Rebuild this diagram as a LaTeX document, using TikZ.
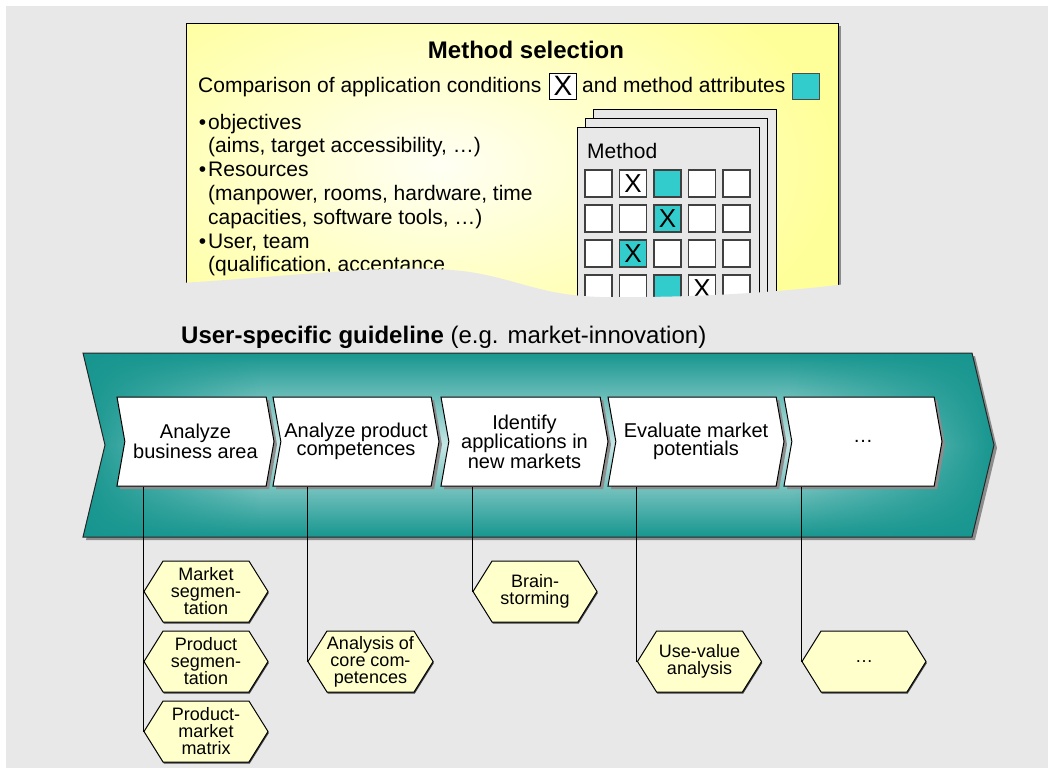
\documentclass[tikz,border=0pt]{standalone}
\usepackage{fontspec}
\setmainfont{Liberation Sans}
\usepackage{tikz}
\usetikzlibrary{shapes.symbols,shadows,fadings}

\definecolor{bggray}{HTML}{E8E8E8}
\definecolor{noteyellow}{HTML}{FFFF99}
\definecolor{notelight}{HTML}{FFFFF4}
\definecolor{attrteal}{HTML}{33CCCC}
\definecolor{banddark}{HTML}{17968F}
\definecolor{bandlight}{HTML}{C6E7E6}
\definecolor{hexyellow}{HTML}{FFFFCC}
\definecolor{shadowgray}{HTML}{8C8C8C}

\tikzfading[name=fadeleft, left color=transparent!0, right color=transparent!100]
\tikzfading[name=faderight, left color=transparent!100, right color=transparent!0]

\tikzset{
  stepbox/.style={signal, signal from=west, signal to=east, signal pointer angle=160,
    draw, fill=white, line width=1pt, minimum height=89pt, inner sep=0pt, align=center,
    font=\fontsize{20}{18.5}\selectfont,
    drop shadow={shadow xshift=3pt, shadow yshift=-3pt, fill=shadowgray, opacity=1}},
  techbox/.style={signal, signal to=west and east, signal pointer angle=116,
    draw, fill=hexyellow, line width=1pt, minimum width=124pt, minimum height=61pt,
    inner sep=0pt, align=center, font=\fontsize{18}{17}\selectfont,
    drop shadow={shadow xshift=0.8pt, shadow yshift=-1.5pt, fill=black!75, opacity=1}},
  cell/.style={draw=black!75, line width=1.2pt, fill=white, minimum size=27pt,
    inner sep=0pt},
  card/.style={draw, fill=bggray, line width=1pt},
  plain/.style={inner sep=0pt, font=\fontsize{21}{24}\selectfont},
  link/.style={line width=1pt},
}

\begin{document}
\begin{tikzpicture}[x=1pt, y=-1pt]
\useasboundingbox (0,0) rectangle (1048,774);
\fill[bggray] (6,6) rectangle (1048,768);
% --- Top: method selection note ---
\fill[shadowgray] (189,26) rectangle (841,300);
\begin{scope}
\clip (186,23) rectangle (838,300);
\shade[inner color=notelight, outer color=noteyellow] (40,-60) rectangle (840,390);
\end{scope}
\draw[line width=1pt] (186,300) -- (186,23) -- (838,23) -- (838,300);
\node[anchor=base, inner sep=0pt, font=\bfseries\fontsize{24}{24}\selectfont] (title) at (526,58) {Method selection};
\node[plain, anchor=base west] (cmp) at (198,92) {Comparison of application conditions};
\node[draw, fill=white, line width=1pt, minimum width=27pt, minimum height=26pt, inner sep=0pt,
  font=\fontsize{28}{28}\selectfont] (legx) at (563,86) {X};
\node[plain, anchor=base west] (attr) at (582,92) {and method attributes};
\node[draw=black!70, fill=attrteal, line width=1pt, minimum width=27pt, minimum height=26pt,
  inner sep=0pt] (legt) at (805.5,86) {};
\foreach \txt [count=\k from 0] in {{\llap{\textbullet\hspace{2pt}}objectives},
    {(aims, target accessibility, \ldots)}, {\llap{\textbullet\hspace{2pt}}Resources},
    {(manpower, rooms, hardware, time}, {capacities, software tools, \ldots)},
    {\llap{\textbullet\hspace{2pt}}User, team}, {(qualification, acceptance}}
  \node[plain, anchor=base west] (need\k) at (208,129+23.8*\k) {\txt};
% method cards
\draw[card] (593,109) rectangle (776,300);
\draw[card] (585,118) rectangle (767,300);
\draw[card] (577,127) rectangle (759,300);
\node[plain, anchor=base west] (mlabel) at (587,158) {Method};
\foreach \r in {0,...,3}
  \foreach \c in {0,...,4}
    \node[cell] (c\r\c) at (598.5+34.5*\c, 183.5+35*\r) {};
\foreach \r/\c in {0/2, 1/2, 2/1, 3/2}
  \node[cell, fill=attrteal] at (c\r\c) {};
\foreach \r/\c in {0/1, 1/2, 2/1, 3/3}
  \node[inner sep=0pt, font=\fontsize{26}{26}\selectfont] at (c\r\c) {X};
% torn lower edge
\fill[bggray] (180,283) .. controls (300,276) and (400,262) .. (470,272)
  .. controls (520,280) and (540,295) .. (600,297)
  .. controls (700,298) and (780,292) .. (846,284) -- (846,314) -- (180,314) -- cycle;

% --- Guideline band ---
\node[anchor=base west, inner sep=0pt, font=\fontsize{24}{24}\selectfont] (guide) at (181,343)
  {\textbf{User-specific guideline} (e.g. market-innovation)};
\fill[shadowgray] (86,356) -- (975,356) -- (997,448) -- (975,540) -- (86,540) -- (108,448) -- cycle;
\begin{scope}
\clip (83,353) -- (972,353) -- (994,445) -- (972,537) -- (83,537) -- (105,445) -- cycle;
\shade[top color=banddark, bottom color=banddark, middle color=bandlight] (83,353) rectangle (994,537);
\fill[banddark, path fading=fadeleft] (83,353) rectangle (260,537);
\fill[banddark, path fading=faderight] (790,353) rectangle (994,537);
\end{scope}
\draw[line width=1pt, black!85] (83,353) -- (972,353) -- (994,445) -- (972,537) -- (83,537) -- (105,445) -- cycle;

\node[stepbox, minimum width=157pt] (s1) at (195.5,441.5) {Analyze\\business area};
\node[stepbox, minimum width=166pt] (s2) at (356,441.5) {Analyze product\\competences};
\node[stepbox, minimum width=167pt] (s3) at (524.5,441.5) {Identify\\applications in\\new markets};
\node[stepbox, minimum width=176pt] (s4) at (696,441.5) {Evaluate market\\potentials};
\node[stepbox, minimum width=158pt] (s5) at (863,441.5) {\ldots};

% --- Techniques ---
\node[techbox] (mkt) at (206,591.5) {Market\\segmen-\\tation};
\node[techbox] (prd) at (206,661.5) {Product\\segmen-\\tation};
\node[techbox] (pmm) at (206,731.5) {Product-\\market\\matrix};
\node[techbox] (core) at (370.5,661.5) {Analysis of\\core com-\\petences};
\node[techbox] (brain) at (535,591.5) {Brain-\\storming};
\node[techbox] (use) at (699.5,661.5) {Use-value\\analysis};
\node[techbox] (more) at (864,661.5) {\ldots};

\draw[link] (s1.south -| pmm.west) -- (pmm.west);
\draw[link] (s2.south -| core.west) -- (core.west);
\draw[link] (s3.south -| brain.west) -- (brain.west);
\draw[link] (s4.south -| use.west) -- (use.west);
\draw[link] (s5.south -| more.west) -- (more.west);
\end{tikzpicture}
\end{document}
